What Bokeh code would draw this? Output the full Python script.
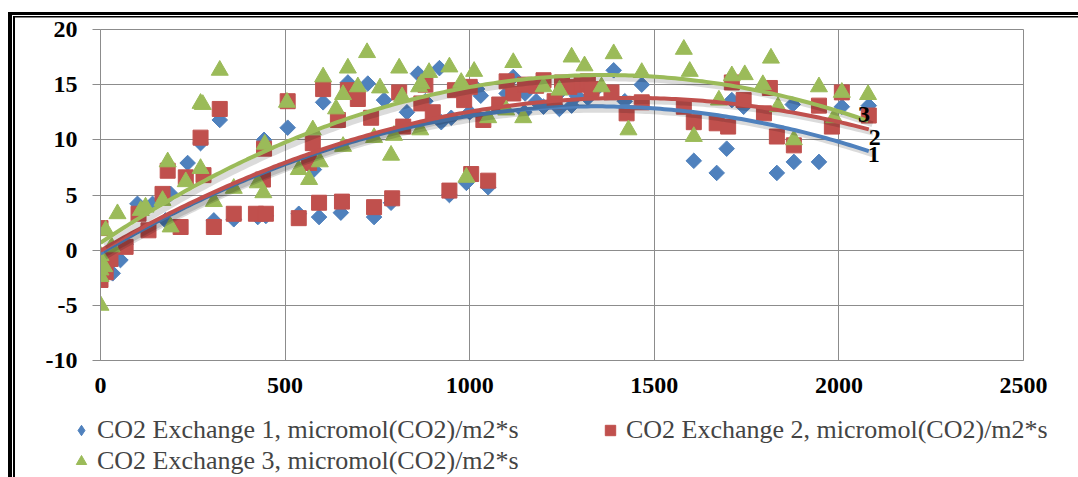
import numpy as np
from bokeh.plotting import figure
from bokeh.layouts import column
from bokeh.models import (Range1d, Legend, LegendItem, ColumnDataSource, FixedTicker,
                          CustomJSTickFormatter)
from bokeh.core.properties import value
from bokeh.embed import file_html
from bokeh.resources import INLINE

# ---- data ----
series_names = ["CO2 Exchange 1, micromol(CO2)/m2*s",
                "CO2 Exchange 2, micromol(CO2)/m2*s",
                "CO2 Exchange 3, micromol(CO2)/m2*s"]
curve_labels = ["1", "2", "3"]

x1 = [0, 0, 14, 33, 54, 68, 100, 141, 176, 190, 236, 271, 307, 323, 361, 426, 443, 448, 507, 537,
      578, 592, 603, 651, 670, 724, 741, 768, 787, 830, 860, 880, 918, 923, 945, 950, 960, 991, 1000, 1020,
      1030, 1050, 1080, 1100, 1118, 1148, 1150, 1180, 1200, 1243, 1250, 1276, 1290, 1320, 1340, 1390, 1420,
      1466, 1607, 1669, 1696, 1710, 1742, 1832, 1875, 1878, 1946, 2008, 2081]
y1 = [-1.1, -1.6, -1.4, -2.1, -0.9, 0.5, 4.2, 4.2, 2.7, 5.1, 7.9, 9.7, 2.7, 11.8, 2.8, 3.0, 10.0, 3.1, 11.1, 3.3,
      7.3, 3.0, 13.4, 3.4, 15.2, 15.1, 3.0, 13.6, 4.3, 12.5, 16.0, 13.5, 16.5, 11.6, 5.0, 12.0, 14.5, 6.1, 12.5, 14.6,
      14.0, 5.7, 13.0, 14.2, 15.7, 12.5, 14.2, 13.5, 13.0, 12.8, 14.5, 13.1, 14.0, 13.8, 14.5, 16.3, 13.5,
      15.0, 8.1, 7.0, 9.2, 13.6, 13.0, 7.0, 13.2, 8.0, 8.0, 13.0, 13.1]

x2 = [0, 0, 0, 0, 0, 14, 27, 68, 103, 130, 168, 182, 217, 231, 271, 279, 307, 323, 361, 421, 440, 443,
      448, 507, 537, 565, 575, 592, 603, 643, 654, 670, 697, 733, 741, 790, 809, 820, 869, 880, 900, 945,
      960, 985, 1000, 1004, 1037, 1050, 1080, 1100, 1118, 1150, 1180, 1200, 1230, 1250, 1270, 1303, 1320,
      1330, 1384, 1425, 1466, 1580, 1607, 1669, 1700, 1710, 1742, 1797, 1813, 1832, 1878, 1946, 1981, 2008, 2081]
y2 = [2.0, -0.9, -2.7, -1.8, -1.3, -2.0, -0.8, 0.3, 3.3, 1.8, 5.1, 7.2, 2.1, 6.6, 10.2, 6.8, 2.1, 12.8, 3.3, 3.3,
      6.4, 9.2, 3.3, 13.5, 2.9, 7.9, 9.7, 4.3, 14.6, 11.8, 4.4, 14.5, 13.7, 12.0, 3.9, 4.7, 14.3, 11.2, 13.3,
      15.0, 12.5, 5.4, 14.5, 13.6, 14.8, 6.9, 11.8, 6.3, 13.2, 15.3, 14.2, 15.0, 14.9, 15.4, 13.5, 15.2, 14.8,
      15.0, 15.3, 14.6, 14.3, 12.4, 13.4, 13.0, 11.6, 11.5, 11.2, 15.2, 13.6, 12.4, 14.7, 10.3, 9.5, 13.1, 11.2,
      14.3, 12.2]

x3 = [0, 0, 0, 0, 0, 10, 14, 30, 46, 109, 122, 168, 182, 190, 231, 271, 271, 277, 307, 323, 361, 426, 441,
      445, 505, 537, 565, 575, 594, 603, 638, 657, 657, 670, 697, 722, 741, 757, 787, 795, 809, 817,
      863, 866, 869, 890, 945, 977, 991, 1012, 1050, 1099, 1118, 1145, 1200, 1243, 1276, 1311, 1357,
      1390, 1430, 1466, 1580, 1596, 1607, 1675, 1710, 1745, 1794, 1816, 1835, 1878, 1946, 1987, 2008, 2079]
y3 = [-5.0, -1.2, -2.4, -1.8, -0.5, -1.5, 1.8, 0.3, 3.3, 3.6, 3.9, 4.5, 8.0, 2.1, 6.2, 13.3, 7.4, 13.2, 4.4, 16.3,
      5.6, 6.1, 5.2, 9.6, 13.4, 7.3, 6.4, 10.9, 8.0, 15.7, 12.8, 9.4, 14.1, 16.5, 14.8, 17.9, 10.2, 14.7, 8.6, 10.4,
      16.5, 13.9, 14.8, 10.9, 15.1, 16.1, 16.6, 15.2, 6.6, 16.2, 12.0, 12.7, 17.0, 12.0, 14.8, 14.5, 17.5, 16.7,
      14.8, 17.8, 10.9, 16.1, 18.2, 16.2, 10.3, 13.6, 15.8, 15.9, 15.0, 17.4, 13.0, 10.0, 14.8, 12.0, 14.3, 14.1]

x_ticks = [0, 500, 1000, 1500, 2000, 2500]
y_ticks = [-10, -5, 0, 5, 10, 15, 20]

colors = ["#4F81BD", "#C0504D", "#9BBB59"]
SERIF = "Liberation Serif"
grid_col = "#8C8C8C"

# ---------------- main chart ----------------
p = figure(width=1078, height=413, output_backend="svg", toolbar_location=None,
           x_range=Range1d(0, 2500), y_range=Range1d(-10, 20),
           min_border_left=100, min_border_right=55, min_border_top=29, min_border_bottom=53)
p.background_fill_color = "white"
p.border_fill_alpha = 0
p.outline_line_color = grid_col
p.outline_line_width = 1

p.xgrid.ticker = FixedTicker(ticks=x_ticks)
p.ygrid.ticker = FixedTicker(ticks=y_ticks)
p.xgrid.grid_line_color = grid_col
p.ygrid.grid_line_color = grid_col

p.xaxis.ticker = FixedTicker(ticks=x_ticks)
p.yaxis.ticker = FixedTicker(ticks=y_ticks)
p.yaxis.formatter = CustomJSTickFormatter(code="return String(tick)")
for ax in (p.xaxis[0], p.yaxis[0]):
    ax.axis_line_color = grid_col
    ax.major_tick_line_color = grid_col
    ax.minor_tick_line_color = None
    ax.major_tick_in = 0
    ax.major_label_text_font = SERIF
    ax.major_label_text_font_style = "bold"
    ax.major_label_text_font_size = "24px"
    ax.major_label_text_color = "black"
p.xaxis.major_tick_out = 0
p.xaxis.major_label_standoff = 17
p.yaxis.major_tick_out = 8
p.yaxis.major_label_standoff = 15

xs = [x1, x2, x3]
ys = [y1, y2, y3]
style1 = dict(marker="square", angle=np.pi / 4, size=11, fill_color=colors[0], line_color=colors[0])
style2 = dict(marker="square", size=15, fill_color=colors[1], line_color=colors[1])
style3 = dict(marker="triangle", size=17, fill_color=colors[2], line_color=colors[2])
p.scatter(x1, y1, **style1)
p.scatter(x2, y2, **style2)
p.scatter(x3, y3, **style3)

# polynomial (2nd order) trend lines fitted to each series
ends = []
for xv, yv, c in zip(xs, ys, colors):
    coef = np.polyfit(xv, yv, 2)
    xx = np.linspace(0, max(xv), 200)
    yy = np.polyval(coef, xx)
    p.line(xx + 12, yy - 0.3, line_color="black", line_alpha=0.14, line_width=6)
    p.line(xx, yy, line_color=c, line_width=4)
    ends.append((xx[-1], yy[-1]))

lab_src = ColumnDataSource(dict(x=[e[0] for e in ends], y=[e[1] for e in ends], t=curve_labels,
                                dx=[5, 6, -4], dy=[3, 8, -6]))
p.text(x="x", y="y", text="t", source=lab_src, x_offset="dx", y_offset="dy",
       text_font=value(SERIF), text_font_style="bold", text_font_size="24px",
       text_align="center", text_baseline="middle", text_color="black")

# ---------------- legend strip ----------------
lg = figure(width=1078, height=64, output_backend="svg", toolbar_location=None,
            x_range=Range1d(0, 1), y_range=Range1d(0, 1),
            x_axis_location=None, y_axis_location=None,
            min_border=0, min_border_left=0, min_border_right=0, min_border_top=0, min_border_bottom=0)
lg.xgrid.visible = False
lg.ygrid.visible = False
lg.outline_line_color = None
lg.background_fill_alpha = 0
lg.border_fill_alpha = 0
# legend-only renderers (their single point lies outside the strip's range)
g1 = lg.scatter([-5], [-5], marker="diamond", fill_color=colors[0], line_color=colors[0])
g2 = lg.scatter([-5], [-5], marker="square", fill_color=colors[1], line_color=colors[1])
g3 = lg.scatter([-5], [-5], marker="triangle", fill_color=colors[2], line_color=colors[2])

leg_common = dict(glyph_width=26, glyph_height=26, label_text_font=SERIF,
                  label_text_font_size="26px", label_standoff=3, padding=0, margin=0,
                  spacing=1, border_line_color=None, background_fill_alpha=0)
legA = Legend(items=[LegendItem(label=series_names[0], renderers=[g1]),
                     LegendItem(label=series_names[2], renderers=[g3])],
              location=(68, 1), **leg_common)
legB = Legend(items=[LegendItem(label=series_names[1], renderers=[g2])],
              location=(597, 32), **leg_common)
lg.add_layout(legA, "center")
lg.add_layout(legB, "center")

# double frame line of the chart box (drawn as inset shadows under the transparent canvases)
frame_css = ("inset 8px 12px 0 0 white, inset 12px 15px 0 0 black, "
             "inset 13px 16px 0 0 white, inset 15px 17.5px 0 0 black")
page = column(p, column(lg), spacing=0, styles={"box-shadow": frame_css, "background-color": "white"})

open("out.html", "w").write(file_html(page, INLINE))
